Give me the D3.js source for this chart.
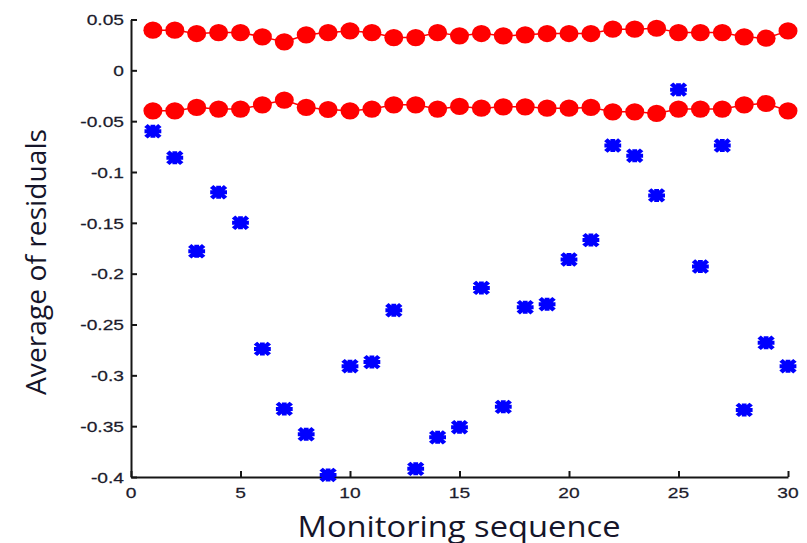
<!DOCTYPE html>
<html>
<head>
<meta charset="utf-8">
<script src="https://cdn.jsdelivr.net/npm/d3@7"></script>
<style>
  html, body { margin: 0; padding: 0; background: #fff; }
  svg { display: block; }
</style>
</head>
<body>
<svg id="chart" width="807" height="543"></svg>
<script>
// Monitoring sequence index
const sequence = d3.range(1, 31);

// Average of residuals for each monitoring run
const residuals = [
  -0.060, -0.086, -0.178, -0.120, -0.150, -0.274, -0.333, -0.358, -0.398, -0.291,
  -0.287, -0.236, -0.392, -0.361, -0.351, -0.214, -0.331, -0.233, -0.230, -0.186,
  -0.167, -0.074, -0.084, -0.123, -0.019, -0.193, -0.074, -0.334, -0.268, -0.291
];

// Upper control limit
const upperLimit = [
  0.0395, 0.0395, 0.0362, 0.0371, 0.0371, 0.0329, 0.0280, 0.0349, 0.0371, 0.0388,
  0.0371, 0.0322, 0.0322, 0.0371, 0.0339, 0.0362, 0.0339, 0.0349, 0.0362, 0.0362,
  0.0362, 0.0405, 0.0405, 0.0414, 0.0371, 0.0371, 0.0371, 0.0329, 0.0316, 0.0388
];

// Lower control limit
const lowerLimit = [
  -0.0398, -0.0398, -0.0365, -0.0381, -0.0381, -0.0339, -0.0293, -0.0365, -0.0385, -0.0398,
  -0.0381, -0.0339, -0.0339, -0.0381, -0.0355, -0.0372, -0.0359, -0.0359, -0.0372, -0.0372,
  -0.0365, -0.0408, -0.0408, -0.0424, -0.0381, -0.0381, -0.0381, -0.0340, -0.0326, -0.0398
];

const xTicks = [0, 5, 10, 15, 20, 25, 30];
const yTicks = [0.05, 0, -0.05, -0.1, -0.15, -0.2, -0.25, -0.3, -0.35, -0.4];

const svg = d3.select("#chart");
const plot = { left: 131, right: 788, top: 19.5, bottom: 477 };

const x = d3.scaleLinear().domain([0, 30]).range([plot.left, plot.right]);
const y = d3.scaleLinear().domain([-0.4, 0.05]).range([plot.bottom, plot.top]);

const axisColor = "#161616";
const tickFont = "'Liberation Sans', Arial, sans-serif";
const titleFont = "'Open Sans', Lato, sans-serif";
const stretch = 1.28; // glyphs are drawn slightly wide

// Axes: MATLAB-style, ticks pointing inward, no box
const yAxis = d3.axisLeft(y).tickValues(yTicks).tickSizeInner(-6).tickSizeOuter(0);
const xAxis = d3.axisBottom(x).tickValues(xTicks).tickSizeInner(-6).tickSizeOuter(0);

const gy = svg.append("g").attr("transform", `translate(${plot.left},0)`).call(yAxis);
const gx = svg.append("g").attr("transform", `translate(0,${plot.bottom})`).call(xAxis);

[gx, gy].forEach(g => {
  g.select(".domain").attr("stroke", axisColor).attr("stroke-width", 2);
  g.selectAll(".tick line").attr("stroke", axisColor).attr("stroke-width", 2);
  g.selectAll(".tick text").remove();
});

// Tick labels, drawn as widened text
function wideText(parent, tx, ty, str, anchor, size) {
  const g = parent.append("g").attr("transform", `translate(${tx},${ty}) scale(${stretch},1)`);
  g.append("text")
    .attr("text-anchor", anchor)
    .attr("dominant-baseline", "central")
    .attr("font-family", tickFont)
    .attr("font-size", size)
    .attr("fill", "#1c1c2c")
    .attr("stroke", "#1c1c2c")
    .attr("stroke-width", 0.25)
    .text(str);
}

yTicks.forEach(v => {
  const label = v === 0 ? "0" : String(+v.toFixed(2));
  wideText(svg, 124, y(v) + 0.5, label, "end", 15);
});
xTicks.forEach(v => {
  wideText(svg, x(v), 493, String(v), "middle", 15);
});

// Axis titles
svg.append("text")
  .attr("x", 459).attr("y", 536.5)
  .attr("text-anchor", "middle")
  .attr("font-family", titleFont)
  .attr("font-size", 29)
  .attr("fill", "#15152a")
  .attr("textLength", 323)
  .attr("lengthAdjust", "spacingAndGlyphs")
  .text("Monitoring sequence");

svg.append("text")
  .attr("transform", "translate(46,262) rotate(-90)")
  .attr("text-anchor", "middle")
  .attr("font-family", titleFont)
  .attr("font-size", 27)
  .attr("fill", "#15152a")
  .attr("textLength", 266)
  .attr("lengthAdjust", "spacingAndGlyphs")
  .text("Average of residuals");

// Control limits: red line with filled circles
const limitLine = d3.line().x((d, i) => x(sequence[i])).y(d => y(d));
[upperLimit, lowerLimit].forEach(series => {
  svg.append("path")
    .datum(series)
    .attr("d", limitLine)
    .attr("fill", "none")
    .attr("stroke", "#ff0000")
    .attr("stroke-width", 1.5);
  svg.append("g").selectAll("ellipse")
    .data(series)
    .join("ellipse")
    .attr("cx", (d, i) => x(sequence[i]))
    .attr("cy", d => y(d))
    .attr("rx", 9.5)
    .attr("ry", 8.6)
    .attr("fill", "#ff0000");
});

// Residual averages: bold asterisk markers
const star = "M-5.8,-5.8L5.8,5.8M-5.8,5.8L5.8,-5.8M-7,0L7,0M0,-6.5L0,6.5";
svg.append("g").selectAll("path")
  .data(residuals)
  .join("path")
  .attr("transform", (d, i) => `translate(${x(sequence[i])},${y(d)}) scale(1.2,1)`)
  .attr("d", star)
  .attr("fill", "none")
  .attr("stroke", "#0000ff")
  .attr("stroke-width", 4);
</script>
</body>
</html>
